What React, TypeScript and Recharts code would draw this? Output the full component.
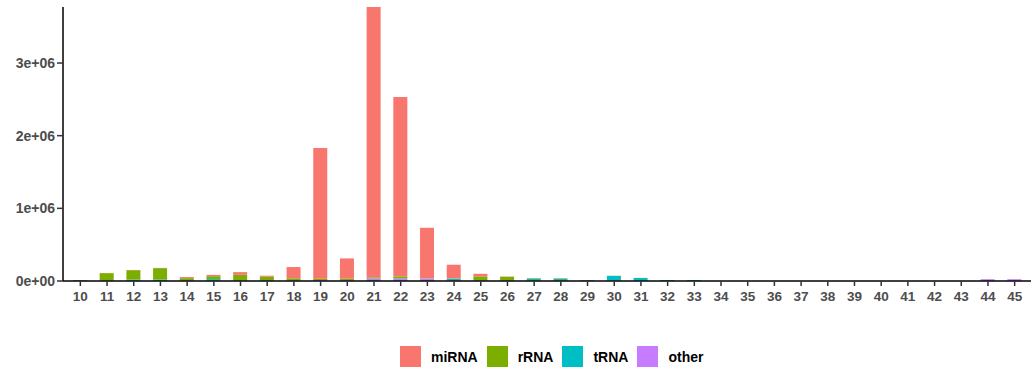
import React from 'react'
import { BarChart, Bar, XAxis, YAxis, Legend } from 'recharts'

// read lengths 10..45
const lengths = ['10', '11', '12', '13', '14', '15', '16', '17', '18', '19', '20', '21', '22', '23', '24', '25', '26', '27',
  '28', '29', '30', '31', '32', '33', '34', '35', '36', '37', '38', '39', '40', '41', '42', '43', '44', '45']

const miRNA = [0, 3000, 3000, 3000, 15000, 18000, 37000, 14000, 155000, 1800000, 280000, 3720000, 2470000, 695000, 190000, 35000, 3000, 2000,
  2000, 0, 0, 0, 0, 0, 0, 0, 0, 0, 0, 0, 0, 0, 0, 0, 0, 0]
const rRNA = [0, 100000, 130000, 158000, 30000, 40000, 75000, 52000, 28000, 18000, 18000, 15000, 28000, 4000, 4000, 55000, 52000, 8000,
  8000, 0, 2000, 1000, 0, 0, 0, 0, 0, 0, 0, 0, 0, 0, 0, 0, 0, 0]
const tRNA = [0, 3000, 15000, 15000, 5000, 20000, 4000, 3000, 3000, 3000, 3000, 4000, 4000, 3000, 18000, 3000, 3000, 24000,
  22000, 2000, 64000, 40000, 12000, 12000, 0, 0, 0, 0, 0, 0, 0, 0, 0, 0, 0, 0]
const other = [12000, 5000, 4000, 4000, 4000, 6000, 6000, 4000, 6000, 10000, 10000, 32000, 32000, 30000, 12000, 6000, 4000, 6000,
  6000, 10000, 6000, 2000, 1000, 1000, 0, 0, 0, 0, 0, 0, 0, 0, 0, 0, 25000, 25000]

const yTicks = [0, 1000000, 2000000, 3000000]

// stacked bottom -> top
const series = [
  { key: 'other', color: '#C77CFF' },
  { key: 'tRNA', color: '#00BFC4' },
  { key: 'rRNA', color: '#7CAE00' },
  { key: 'miRNA', color: '#F8766D' },
]
const legendOrder = ['miRNA', 'rRNA', 'tRNA', 'other']

const data = lengths.map((len, i) => ({
  len,
  miRNA: miRNA[i],
  rRNA: rRNA[i],
  tRNA: tRNA[i],
  other: other[i],
}))

const font = '"Liberation Sans", Arial, sans-serif'
const yTickStyle = { fontFamily: font, fontSize: 14, fontWeight: 700, fill: '#4D4D4D' }
const xTickStyle = { fontFamily: font, fontSize: 13.5, fontWeight: 700, fill: '#4D4D4D' }

const fmtY = (v: number) => (v === 0 ? '0e+00' : `${v / 1000000}e+06`)

function LegendBox() {
  return (
    <div style={{ display: 'flex', alignItems: 'center', fontFamily: font, fontSize: 14, fontWeight: 700, color: '#000' }}>
      {legendOrder.map(name => {
        const s = series.find(x => x.key === name)!
        return (
          <div key={name} style={{ display: 'flex', alignItems: 'center', marginRight: 9 }}>
            <span style={{ width: 21, height: 21, background: s.color, marginRight: 10, display: 'inline-block' }} />
            <span>{name}</span>
          </div>
        )
      })}
    </div>
  )
}

export default function App() {
  return (
    <div style={{ position: 'absolute', left: 0, top: 0, width: 1032, height: 372, background: '#fff' }}>
      <BarChart width={1032} height={372} data={data} margin={{ top: 7, right: 1, left: 0, bottom: 61 }} barCategoryGap={0}>
        <XAxis
          dataKey="len"
          interval={0}
          height={30}
          tick={xTickStyle}
          tickSize={5}
          tickMargin={5}
          padding={{ left: 4, right: 3 }}
          axisLine={{ stroke: '#000', strokeWidth: 1.5 }}
          tickLine={{ stroke: '#333', strokeWidth: 1.5 }}
        />
        <YAxis
          width={63}
          domain={[0, 'dataMax']}
          ticks={yTicks}
          tickFormatter={fmtY}
          tick={yTickStyle}
          tickSize={6}
          tickMargin={2}
          axisLine={{ stroke: '#000', strokeWidth: 1.5 }}
          tickLine={{ stroke: '#333', strokeWidth: 1.5 }}
        />
        <Legend
          layout="horizontal"
          verticalAlign="middle"
          align="center"
          wrapperStyle={{ top: 346, left: 400, width: 'auto' }}
          content={() => <LegendBox />}
        />
        {series.map(s => (
          <Bar key={s.key} dataKey={s.key} stackId="a" fill={s.color} barSize={14} isAnimationActive={false} />
        ))}
      </BarChart>
    </div>
  )
}
